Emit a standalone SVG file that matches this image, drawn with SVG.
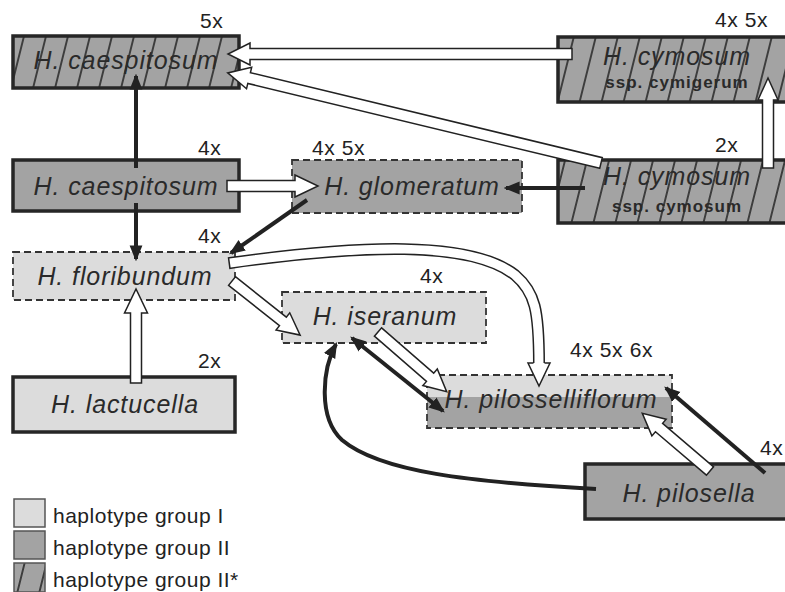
<svg xmlns="http://www.w3.org/2000/svg" width="785" height="592" viewBox="0 0 785 592">
<style>
.name{font-family:"Liberation Sans",Arial,sans-serif;font-style:italic;font-size:25px;letter-spacing:0.9px;fill:#2a2a2a;text-anchor:middle}
.sub{font-family:"Liberation Sans",Arial,sans-serif;font-weight:bold;font-size:17px;letter-spacing:1px;fill:#2a2a2a;text-anchor:middle}
.pl{font-family:"Liberation Sans",Arial,sans-serif;font-size:21px;letter-spacing:0.6px;fill:#222}
.lg{font-family:"Liberation Sans",Arial,sans-serif;font-size:21px;letter-spacing:0.5px;fill:#222}
.solid{stroke:#262626;stroke-width:3.5}
.dash{stroke:#333;stroke-width:1.8;stroke-dasharray:7 4}
.light{fill:#dcdcdc}
.dark{fill:#a3a3a3}
.hatch{fill:url(#hp)}
.wa{fill:#fff;stroke:#222;stroke-width:1.5;stroke-linejoin:miter}
.ba{fill:none;stroke:#222;stroke-width:4;marker-end:url(#ah)}
.leg{stroke:#555;stroke-width:1.5}
</style>
<defs>
<pattern id="hp" patternUnits="userSpaceOnUse" width="22" height="60" patternTransform="skewX(-14)">
<rect width="22" height="60" fill="#a3a3a3"/>
<line x1="11" y1="-1" x2="11" y2="61" stroke="#111" stroke-width="1.4"/>
</pattern>
<marker id="ah" viewBox="0 0 10 10" refX="8.5" refY="5" markerWidth="4" markerHeight="4" orient="auto-start-reverse" markerUnits="strokeWidth">
<path d="M0,1 L10,5 L0,9 z" fill="#222"/>
</marker>
</defs>

<g id="n-caespitosum5x">
<rect x="13" y="36" width="226" height="52" class="hatch solid"/>
<text x="126" y="69" class="name">H. caespitosum</text>
<text x="200" y="28" class="pl">5x</text>
</g>
<g id="n-caespitosum4x">
<rect x="13" y="160" width="226" height="51" class="dark solid"/>
<text x="126" y="195" class="name">H. caespitosum</text>
<text x="198" y="155" class="pl">4x</text>
</g>
<g id="n-glomeratum">
<rect x="292" y="160" width="230" height="53" class="dark dash"/>
<text x="412" y="195" class="name">H. glomeratum</text>
<text x="312" y="155" class="pl">4x 5x</text>
</g>
<g id="n-cymigerum">
<rect x="558" y="37" width="240" height="65" class="hatch solid"/>
<text x="677" y="65" class="name">H. cymosum</text>
<text x="677" y="88" class="sub">ssp. cymigerum</text>
<text x="715" y="27" class="pl">4x 5x</text>
</g>
<g id="n-cymosum">
<rect x="558" y="160" width="240" height="63" class="hatch solid"/>
<text x="677" y="185" class="name">H. cymosum</text>
<text x="677" y="212" class="sub">ssp. cymosum</text>
<text x="715" y="152" class="pl">2x</text>
</g>
<g id="n-floribundum">
<rect x="13" y="252" width="222" height="48" class="light dash"/>
<text x="125" y="285" class="name">H. floribundum</text>
<text x="198" y="243" class="pl">4x</text>
</g>
<g id="n-iseranum">
<rect x="282" y="292" width="204" height="51" class="light dash"/>
<text x="385" y="325" class="name">H. iseranum</text>
<text x="420" y="283" class="pl">4x</text>
</g>
<g id="n-pilosselliflorum">
<rect x="427" y="375" width="245" height="22" class="light"/>
<rect x="427" y="397" width="245" height="31" class="dark"/>
<rect x="427" y="375" width="245" height="53" fill="none" class="dash"/>
<text x="551" y="408" class="name">H. pilosselliflorum</text>
<text x="570" y="357" class="pl">4x 5x 6x</text>
</g>
<g id="n-lactucella">
<rect x="13" y="377" width="222" height="55" class="light solid"/>
<text x="125" y="413" class="name">H. lactucella</text>
<text x="198" y="368" class="pl">2x</text>
</g>
<g id="n-pilosella">
<rect x="585" y="464" width="215" height="55" class="dark solid"/>
<text x="689" y="502" class="name">H. pilosella</text>
<text x="760" y="455" class="pl">4x</text>
</g>

<g id="connectors">
<path class="wa" transform="translate(572,54) rotate(180)" d="M0,-5.5 H322 V-11 L344,0 L322,11 V5.5 H0Z"/>
<path class="wa" transform="translate(601,163) rotate(193.57)" d="M0,-5.5 H362 V-11 L384,0 L362,11 V5.5 H0Z"/>
<path class="wa" transform="translate(227,186)" d="M0,-5.5 H68 V-11 L91,0 L68,11 V5.5 H0Z"/>
<path class="wa" transform="translate(768,168) rotate(-90)" d="M0,-5.5 H68 V-10 L90,0 L68,10 V5.5 H0Z"/>
<path class="wa" transform="translate(136,383) rotate(-90)" d="M0,-5.5 H70 V-11.5 L94,0 L70,11.5 V5.5 H0Z"/>
<path class="wa" transform="translate(232,281) rotate(38.45)" d="M0,-5.5 H65 V-11 L87,0 L65,11 V5.5 H0Z"/>
<path class="wa" transform="translate(378,332) rotate(41)" d="M0,-5.5 H69 V-11 L91,0 L69,11 V5.5 H0Z"/>
<path class="wa" transform="translate(710,471) rotate(220.46)" d="M0,-5.5 H67 V-11 L89,0 L67,11 V5.5 H0Z"/>
<path d="M228.5,263.2 L230,263 C360,245 470,240 515,275 C535,292 539,310 539,364" fill="none" stroke="#222" stroke-width="12"/>
<path d="M230,263 C360,245 470,240 515,275 C535,292 539,310 539,365" fill="none" stroke="#fff" stroke-width="9"/>
<path d="M533.5,363 H528 L539,386 L550,363 H544.5" class="wa"/>
<path class="ba" d="M136,168 L136,76"/>
<path class="ba" d="M136,203 L136,259"/>
<path class="ba" d="M585,188 L506,188"/>
<path class="ba" d="M307,200 L231,253"/>
<path class="ba" d="M352,338 L443,411" marker-start="url(#ah)"/>
<path class="ba" d="M765,473 L666,388"/>
<path class="ba" d="M596,489 C470,482 380,472 342,440 C318,418 322,370 336,344"/>
</g>

<g id="legend">
<rect x="14" y="499" width="31" height="28" class="light leg"/>
<text x="53" y="523" class="lg">haplotype group I</text>
<rect x="14" y="531" width="31" height="28" class="dark leg"/>
<text x="53" y="555" class="lg">haplotype group II</text>
<rect x="14" y="563" width="31" height="29" class="hatch leg"/>
<text x="53" y="587" class="lg">haplotype group II*</text>
</g>
</svg>
